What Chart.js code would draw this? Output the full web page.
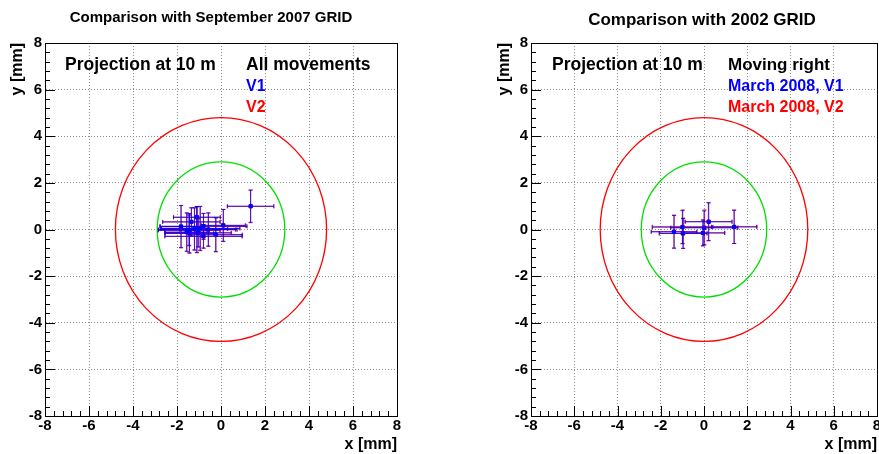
<!DOCTYPE html>
<html>
<head>
<meta charset="utf-8">
<script src="https://cdn.jsdelivr.net/npm/chart.js@4/dist/chart.umd.min.js"></script>
<style>
  html, body { margin: 0; padding: 0; background: #fff; overflow: hidden; }
  canvas { position: absolute; top: 0; }
  #leftChart { left: 0; }
  #rightChart { left: 440px; }
</style>
</head>
<body>
<canvas id="leftChart" width="440" height="454"></canvas>
<canvas id="rightChart" width="460" height="454"></canvas>
<script>
// axis range and tolerance circles (mm)
const axisMin = -8;
const axisMax = 8;
const circleRadii = [2.9, 4.8];

// left panel: all movements, V1 (blue) and V2 (red)
const leftV1X  = [1.35, -1.82, -1.56, -1.44, -1.21, -1.10, -0.95, -0.58, -0.24, 0.10, -1.10, -1.35, -0.80, -1.04, -0.80, -1.45];
const leftV1Y  = [1.00, 0.13, -0.11, -0.16, 0.03, 0.00, 0.05, 0.00, -0.22, 0.18, 0.53, 0.33, 0.14, -0.14, -0.29, -0.03];
const leftV1EX = [1.05, 0.95, 1.00, 1.10, 1.50, 1.75, 1.80, 1.30, 1.20, 1.00, 1.06, 1.30, 1.97, 1.50, 1.75, 1.40];
const leftV1EY = [0.69, 0.90, 0.82, 0.84, 0.90, 0.98, 0.94, 0.71, 0.72, 0.68, 0.45, 0.60, 0.55, 0.60, 0.50, 0.65];

const leftV2X  = [1.34, -1.81, -1.55, -1.43, -1.20, -1.09, -0.94, -0.57, -0.23, 0.11, -1.09, -1.34, -0.79, -1.03, -0.79, -1.44];
const leftV2Y  = [0.99, 0.12, -0.12, -0.17, 0.02, -0.01, 0.04, -0.01, -0.23, 0.17, 0.52, 0.32, 0.13, -0.15, -0.30, -0.04];
const leftV2EX = [1.06, 0.96, 1.01, 1.11, 1.51, 1.76, 1.81, 1.31, 1.21, 1.01, 1.07, 1.31, 1.98, 1.51, 1.76, 1.41];
const leftV2EY = [0.70, 0.91, 0.83, 0.85, 0.91, 0.99, 0.95, 0.72, 0.73, 0.69, 0.46, 0.61, 0.56, 0.61, 0.51, 0.66];

// right panel: moving right, March 2008 V1 (blue) and V2 (red)
const rightV1X  = [-1.39, -1.00, -0.97, 0.00, 0.22, 1.39, -0.05];
const rightV1Y  = [-0.10, 0.10, -0.17, 0.07, 0.33, 0.11, -0.15];
const rightV1EX = [1.05, 1.40, 1.10, 1.55, 1.08, 1.04, 1.00];
const rightV1EY = [0.70, 0.71, 0.64, 0.73, 0.81, 0.71, 0.55];

const rightV2X  = [-1.38, -0.98, -0.96, 0.03, 0.20, 1.40, -0.04];
const rightV2Y  = [-0.09, 0.12, -0.16, 0.09, 0.34, 0.12, -0.14];
const rightV2EX = [1.06, 1.40, 1.11, 1.55, 1.09, 1.06, 1.01];
const rightV2EY = [0.71, 0.72, 0.65, 0.75, 0.82, 0.72, 0.56];

const FONT = "'Liberation Sans', Arial, Helvetica, sans-serif";

function toPoints(xs, ys) {
    return xs.map((x, i) => ({ x: x, y: ys[i] }));
}

function drawErrorBars(chart, xs, ys, exs, eys, color) {
    const ctx = chart.ctx;
    const sx = chart.scales.x, sy = chart.scales.y;
    ctx.save();
    ctx.strokeStyle = color;
    ctx.lineWidth = 1;
    for (let i = 0; i < xs.length; i++) {
        const px = sx.getPixelForValue(xs[i]);
        const py = sy.getPixelForValue(ys[i]);
        const x1 = sx.getPixelForValue(xs[i] - exs[i]);
        const x2 = sx.getPixelForValue(xs[i] + exs[i]);
        const y1 = sy.getPixelForValue(ys[i] - eys[i]);
        const y2 = sy.getPixelForValue(ys[i] + eys[i]);
        ctx.beginPath();
        ctx.moveTo(x1, py); ctx.lineTo(x2, py);
        ctx.moveTo(px, y1); ctx.lineTo(px, y2);
        // end caps
        ctx.moveTo(x1, py - 2); ctx.lineTo(x1, py + 2);
        ctx.moveTo(x2, py - 2); ctx.lineTo(x2, py + 2);
        ctx.moveTo(px - 2, y1); ctx.lineTo(px + 2, y1);
        ctx.moveTo(px - 2, y2); ctx.lineTo(px + 2, y2);
        ctx.stroke();
    }
    ctx.restore();
}

function makePanel(canvasId, yAxisWidth, padRight, v1, v2, texts) {
    const overlay = {
        id: 'overlay_' + canvasId,
        beforeDatasetsDraw(chart) {
            const ctx = chart.ctx;
            const sx = chart.scales.x, sy = chart.scales.y;
            const cx = sx.getPixelForValue(0), cy = sy.getPixelForValue(0);
            const colors = ['#00e000', '#ff0000'];
            ctx.save();
            ctx.lineWidth = 1.3;
            circleRadii.forEach((r, i) => {
                const rx = Math.abs(sx.getPixelForValue(r) - cx);
                const ry = Math.abs(sy.getPixelForValue(r) - cy);
                ctx.strokeStyle = colors[i];
                ctx.beginPath();
                ctx.ellipse(cx, cy, rx, ry, 0, 0, Math.PI * 2);
                ctx.stroke();
            });
            ctx.restore();
            drawErrorBars(chart, v2[0], v2[1], v2[2], v2[3], 'rgba(255,0,0,0.8)');
            drawErrorBars(chart, v1[0], v1[1], v1[2], v1[3], 'rgba(0,0,255,0.8)');
        },
        afterDraw(chart) {
            const ctx = chart.ctx;
            const a = chart.chartArea;
            const sx = chart.scales.x, sy = chart.scales.y;
            ctx.save();
            // frame
            ctx.strokeStyle = '#000';
            ctx.lineWidth = 1;
            ctx.strokeRect(Math.round(a.left) + 0.5, Math.round(a.top) + 0.5,
                Math.round(a.right - a.left), Math.round(a.bottom - a.top));
            // inner ticks on the left and bottom axes
            ctx.beginPath();
            for (let k = 0; k <= 40; k++) {
                const v = axisMin + k * 0.4;
                const major = k % 5 === 0;
                const len = major ? 10 : 5;
                const px = Math.round(sx.getPixelForValue(v)) + 0.5;
                ctx.moveTo(px, a.bottom); ctx.lineTo(px, a.bottom - len);
                const py = Math.round(sy.getPixelForValue(v)) + 0.5;
                ctx.moveTo(a.left, py); ctx.lineTo(a.left + len, py);
            }
            ctx.stroke();

            // titles and labels
            ctx.fillStyle = '#000';
            ctx.font = 'bold ' + texts.titleSize + 'px ' + FONT;
            ctx.textAlign = 'center';
            ctx.textBaseline = 'middle';
            ctx.fillText(texts.title, texts.titleX, texts.titleY);

            ctx.font = 'bold 16px ' + FONT;
            ctx.textBaseline = 'alphabetic';
            ctx.textAlign = 'right';
            ctx.fillText('x [mm]', texts.xTitleRight, 449);

            ctx.save();
            ctx.translate(texts.yTitleX, a.top);
            ctx.rotate(-Math.PI / 2);
            ctx.textAlign = 'right';
            ctx.textBaseline = 'middle';
            ctx.fillText('y [mm]', 0, 0);
            ctx.restore();

            ctx.textAlign = 'left';
            ctx.font = 'bold 17.5px ' + FONT;
            ctx.fillText('Projection at 10 m', texts.projX, 70);
            ctx.font = 'bold ' + texts.headSize + 'px ' + FONT;
            ctx.fillText(texts.head, texts.legX, 70);
            ctx.font = 'bold 16px ' + FONT;
            ctx.fillStyle = '#0000ff';
            ctx.fillText(texts.v1, texts.legX, 91);
            ctx.fillStyle = '#ff0000';
            ctx.fillText(texts.v2, texts.legX, 112);
            ctx.restore();
        }
    };

    const tickFont = { family: FONT, weight: 'bold', size: 15 };

    return new Chart(document.getElementById(canvasId), {
        type: 'scatter',
        data: {
            datasets: [
                {
                    label: 'V1',
                    data: toPoints(v1[0], v1[1]),
                    pointStyle: 'rect',
                    pointRadius: 2.3,
                    backgroundColor: '#0000ff',
                    borderColor: '#0000ff',
                    borderWidth: 1
                },
                {
                    label: 'V2',
                    data: toPoints(v2[0], v2[1]),
                    pointStyle: 'rect',
                    pointRadius: 2,
                    backgroundColor: '#ff0000',
                    borderColor: '#ff0000',
                    borderWidth: 1
                }
            ]
        },
        options: {
            responsive: false,
            animation: false,
            events: [],
            layout: { padding: { top: 43, right: padRight, left: 0, bottom: 0 } },
            plugins: { legend: { display: false }, tooltip: { enabled: false }, title: { display: false } },
            scales: {
                x: {
                    type: 'linear',
                    min: axisMin,
                    max: axisMax,
                    afterFit: function(scale) { scale.height = 38; },
                    ticks: { stepSize: 2, color: '#000', font: tickFont, padding: 1, maxRotation: 0 },
                    grid: { color: '#8c8c8c', lineWidth: 1, drawTicks: false },
                    border: { color: '#000', width: 1, dash: [1, 2] }
                },
                y: {
                    type: 'linear',
                    min: axisMin,
                    max: axisMax,
                    afterFit: function(scale) { scale.width = yAxisWidth; },
                    ticks: { stepSize: 2, color: '#000', font: tickFont, padding: 3 },
                    grid: { color: '#8c8c8c', lineWidth: 1, drawTicks: false },
                    border: { color: '#000', width: 1, dash: [1, 2] }
                }
            }
        },
        plugins: [overlay]
    });
}

makePanel('leftChart', 45, 43,
    [leftV1X, leftV1Y, leftV1EX, leftV1EY],
    [leftV2X, leftV2Y, leftV2EX, leftV2EY],
    {
        title: 'Comparison with September 2007 GRID', titleX: 211, titleY: 18, titleSize: 15,
        xTitleRight: 397, yTitleX: 18,
        projX: 65, legX: 246, headSize: 17.5,
        head: 'All movements', v1: 'V1', v2: 'V2'
    });

makePanel('rightChart', 91, 23,
    [rightV1X, rightV1Y, rightV1EX, rightV1EY],
    [rightV2X, rightV2Y, rightV2EX, rightV2EY],
    {
        title: 'Comparison with 2002 GRID', titleX: 262, titleY: 20, titleSize: 17,
        xTitleRight: 437, yTitleX: 65,
        projX: 112, legX: 288, headSize: 17,
        head: 'Moving right', v1: 'March 2008, V1', v2: 'March 2008, V2'
    });
</script>
</body>
</html>
